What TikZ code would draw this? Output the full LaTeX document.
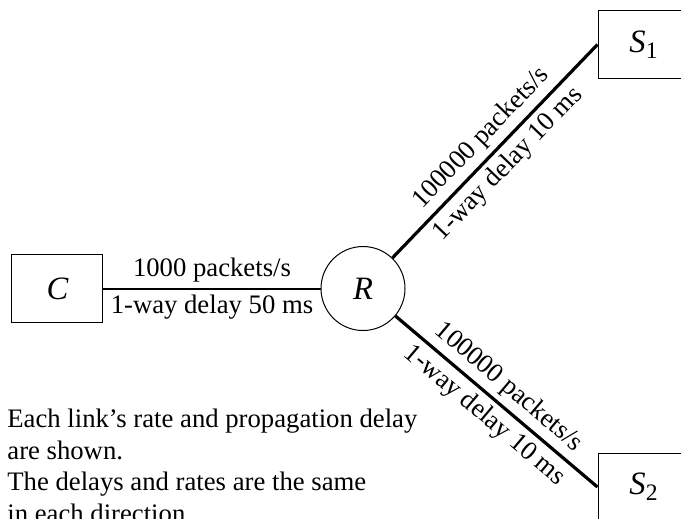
\documentclass[tikz,border=0pt]{standalone}
\usepackage{fontspec}
\setmainfont{Liberation Serif}

\begin{document}
\begin{tikzpicture}[
    every node/.style={font=\fontsize{13.35}{15.75}\selectfont},
    host/.style={draw, rectangle, minimum width=45.5pt, minimum height=34pt, line width=0.5pt,
        font=\fontsize{16.3}{19}\selectfont\itshape},
    router/.style={draw, circle, minimum size=42pt, inner sep=0pt, line width=0.5pt,
        font=\fontsize{16.3}{19}\selectfont\itshape},
    slowlink/.style={line width=1pt},
    fastlink/.style={line width=1.6pt},
    lbl/.style={midway, sloped, inner sep=2.5pt}
]
    \useasboundingbox (-6.379,-4.033) rectangle (5.588,5.070);

    \node[router] (R) at (0,0) {R};
    \node[host] (C) at (-5.369,0) {C};
    \node[host] (S1) at (4.929,4.288) {S\raisebox{-3pt}{\fontsize{11.8}{12}\selectfont\upshape 1}};
    \node[host] (S2) at (4.929,-3.488) {S\raisebox{-3pt}{\fontsize{11.8}{12}\selectfont\upshape 2}};

    \draw[slowlink] (C) -- (R)
        node[lbl, above] {1000 packets/s}
        node[lbl, below] {1-way delay 50 ms};
    \draw[fastlink] (R) -- (S1.west)
        node[lbl, above] {100000 packets/s}
        node[lbl, below] {1-way delay 10 ms};
    \draw[fastlink] (R) -- (S2.west)
        node[lbl, above] {100000 packets/s}
        node[lbl, below] {1-way delay 10 ms};

    \node[anchor=north west, inner sep=0pt, align=left] (note) at (-6.256,-2.114)
        {Each link’s rate and propagation delay\\are shown.\\The delays and rates are the same\\in each direction.};
\end{tikzpicture}
\end{document}
